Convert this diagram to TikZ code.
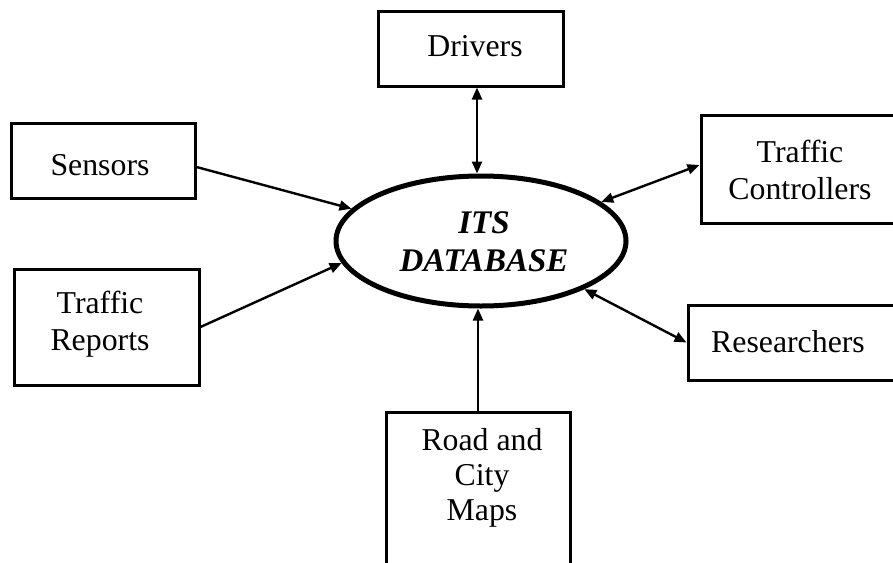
\documentclass[tikz,border=0pt]{standalone}
\usepackage{fontspec}
\setmainfont{Liberation Serif}
\usetikzlibrary{arrows.meta,shapes.geometric}
\begin{document}
\begin{tikzpicture}[x=1pt,y=-1pt,
  box/.style={draw, line width=3pt, inner sep=0pt, rectangle},
  txt/.style={font=\fontsize{31.8}{36.5}\selectfont, align=center, inner sep=0pt},
  conn/.style={line width=2.4pt, -{Triangle[length=12pt,width=10pt]}},
  biconn/.style={line width=2.4pt, {Triangle[length=12pt,width=10pt]}-{Triangle[length=12pt,width=10pt]}}]
\useasboundingbox (0,0) rectangle (893,562);
\clip (0,0) rectangle (893,562);

% boxes
\node[box, minimum width=185pt, minimum height=75pt] (drivers) at (470.5,48.5) {};
\node[txt] (driverst) at (475,46) {Drivers};

\node[box, minimum width=184pt, minimum height=75pt] (sensors) at (103,160.5) {};
\node[txt] (sensorst) at (100,165.5) {Sensors};

\node[box, minimum width=199pt, minimum height=108pt] (tc) at (800.5,169) {};
\node[txt] (tct) at (800,170) {Traffic\\Controllers};

\node[box, minimum width=185pt, minimum height=116pt] (reports) at (106.5,327) {};
\node[txt] (reportst) at (100,324) {Traffic\\Reports};

\node[box, minimum width=212pt, minimum height=75pt] (res) at (794,342.5) {};
\node[txt] (rest) at (788,342) {Researchers};

\node[box, minimum width=184pt, minimum height=188pt] (maps) at (478,506) {};
\node[txt, font=\fontsize{31.8}{35}\selectfont] (mapst) at (482,478) {Road and\\City\\Maps};

% database ellipse
\node[draw, ellipse, line width=5pt, minimum width=290pt, minimum height=130pt, inner sep=0pt] (db) at (481,241) {};
\node[txt, font=\fontsize{33}{38}\selectfont\bfseries\itshape] (dbt) at (484,242) {ITS\\DATABASE};

% connectors
\draw[biconn] ([xshift=6.5pt]drivers.south) -- ([xshift=6.5pt]drivers.south |- db.north);
\draw[conn] ([yshift=-6.5pt]sensors.east) -- (db.166);
\draw[conn] (reports.east) -- (db.189);
\draw[biconn] ([yshift=4pt]tc.west) -- (db.18);
\draw[biconn] (res.west) -- (db.335);
\draw[conn] (maps.north) -- (maps.north |- db.south);
\end{tikzpicture}
\end{document}
